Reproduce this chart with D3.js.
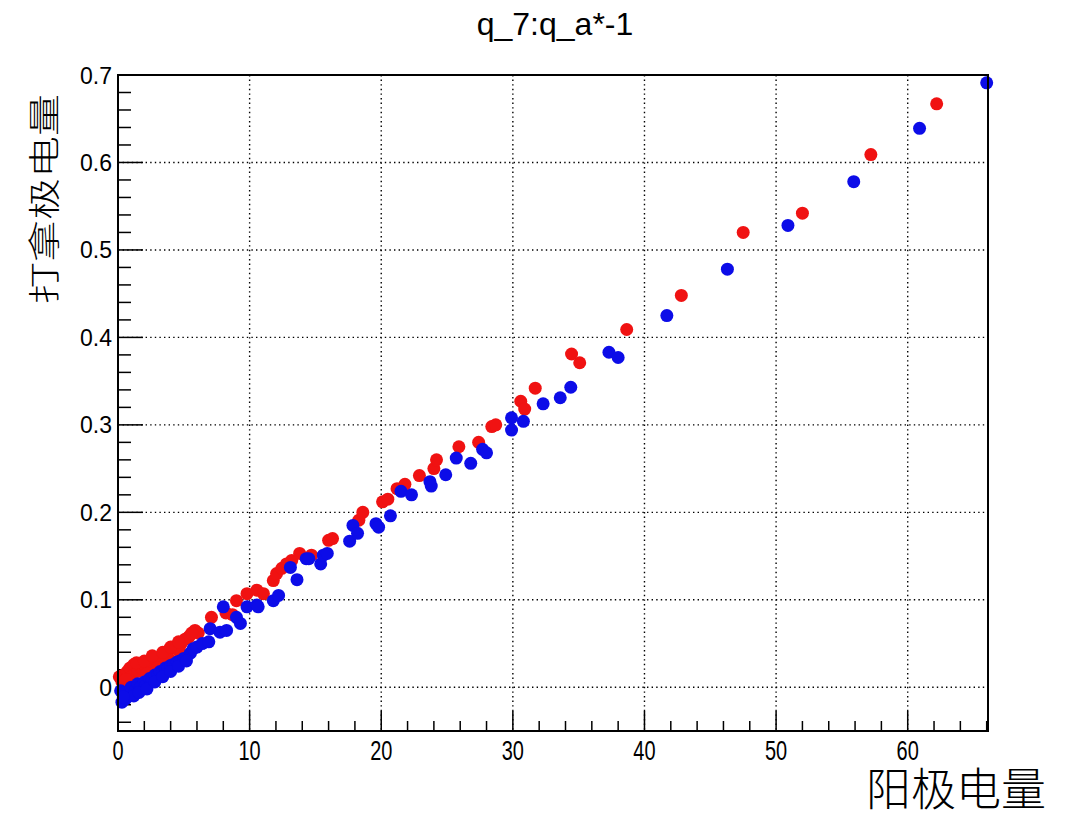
<!DOCTYPE html>
<html><head><meta charset="utf-8">
<script src="https://cdn.jsdelivr.net/npm/d3@7"></script>
<style>html,body{margin:0;padding:0;background:#fff;}</style>
</head><body>
<svg id="c" width="1074" height="817"></svg>
<script>
const title = "q_7:q_a*-1";
const xLabel = "阳极电量";
const yLabel = "打拿极电量";
const xTicks = [0,10,20,30,40,50,60];
const yTicks = [0,0.1,0.2,0.3,0.4,0.5,0.6,0.7];
const yTickLabels = ["0","0.1","0.2","0.3","0.4","0.5","0.6","0.7"];

const redX = [0.1,0.4,0.7,0.9,1.2,1.0,1.5,1.8,2.1,2.4,2.7,2.2,3.0,3.3,3.6,3.0,3.9,4.2,4.5,3.9,4.8,5.1,5.4,4.7,5.35,5.85,6.1,
  1.4,2.0,2.6,3.4,4.0,4.6,5.6,0.3,0.6,
  7.1,8.2,8.7,9.0,9.8,10.55,11.05,11.8,12.05,12.45,12.8,13.2,13.8,14.7,16.0,16.3,18.3,18.6,20.1,20.5,21.2,21.8,22.9,24.0,24.2,
  25.9,27.4,28.4,28.7,30.6,30.9,31.7,34.46,35.08,38.65,42.8,47.5,52.0,57.2,62.2];
const redY = [0.012,0.014,0.018,0.022,0.026,0.012,0.018,0.022,0.024,0.029,0.033,0.016,0.031,0.036,0.040,0.022,0.043,0.046,0.048,0.032,0.050,0.055,0.058,0.040,0.057,0.065,0.062,
  0.028,0.030,0.036,0.040,0.046,0.052,0.062,0.006,0.009,
  0.080,0.085,0.083,0.099,0.107,0.111,0.107,0.122,0.130,0.136,0.141,0.145,0.153,0.151,0.168,0.170,0.191,0.200,0.212,0.215,0.227,0.232,0.242,0.250,0.260,
  0.275,0.280,0.298,0.300,0.327,0.318,0.342,0.381,0.371,0.409,0.448,0.520,0.542,0.609,0.667];

const blueX = [0.3,0.6,0.2,0.5,0.9,1.0,1.3,1.5,1.7,2.0,2.1,2.4,2.6,2.8,3.0,3.2,3.4,3.6,3.8,4.0,4.2,4.5,4.7,5.0,5.5,5.7,6.0,6.4,6.9,
  1.2,1.6,2.2,2.8,3.4,4.0,4.6,5.2,0.4,
  7.0,7.75,8.25,8.0,9.0,9.3,9.8,10.55,10.65,11.8,12.2,13.1,13.6,14.3,14.5,15.4,15.6,15.9,17.6,17.85,18.2,19.6,19.8,20.7,21.5,22.3,23.7,23.8,
  24.9,25.7,26.8,27.7,28.0,29.9,30.8,29.9,32.3,33.6,34.4,37.3,38.0,41.7,46.3,50.9,55.9,60.9,66.0];
const blueY = [-0.017,-0.013,-0.004,-0.006,-0.008,0.000,-0.004,0.004,0.000,0.006,0.002,0.010,0.008,0.014,0.013,0.018,0.018,0.022,0.022,0.025,0.026,0.029,0.030,0.033,0.039,0.044,0.046,0.050,0.052,
  -0.010,-0.006,-0.002,0.006,0.012,0.018,0.024,0.030,-0.011,
  0.067,0.063,0.065,0.092,0.080,0.073,0.092,0.094,0.092,0.099,0.105,0.137,0.123,0.147,0.147,0.141,0.151,0.153,0.167,0.185,0.176,0.187,0.183,0.196,0.224,0.220,0.235,0.230,
  0.243,0.262,0.256,0.272,0.268,0.308,0.304,0.294,0.324,0.331,0.343,0.383,0.377,0.425,0.478,0.528,0.578,0.639,0.691];

const svg = d3.select("#c");
svg.append("rect").attr("width",1074).attr("height",817).attr("fill","#fff");
const L=118,R=988,T=75,B=731;
const x = d3.scaleLinear().domain([0,66.1]).range([L,R]);
const y = d3.scaleLinear().domain([-0.05,0.7]).range([B,T]);

// grid
const g = svg.append("g");
g.selectAll("line.gx").data(xTicks.filter(d=>d>0)).join("line")
  .attr("x1",d=>x(d)).attr("x2",d=>x(d)).attr("y1",T).attr("y2",B)
  .attr("stroke","#000").attr("stroke-width",1.4).attr("stroke-dasharray","1.4 3.2");
g.selectAll("line.gy").data(yTicks.filter(d=>d<0.7)).join("line")
  .attr("y1",d=>y(d)).attr("y2",d=>y(d)).attr("x1",L).attr("x2",R)
  .attr("stroke","#000").attr("stroke-width",1.4).attr("stroke-dasharray","1.4 3.2");

// ticks
const xMinor = d3.range(0,66.1,2);
svg.append("g").selectAll("line").data(xMinor).join("line")
  .attr("x1",d=>x(d)).attr("x2",d=>x(d)).attr("y1",B)
  .attr("y2",d=>B-(d%10===0?20:10)).attr("stroke","#000").attr("stroke-width",1.5);
const yMinor = d3.range(-0.04,0.701,0.02).map(v=>Math.round(v*100)/100);
svg.append("g").selectAll("line").data(yMinor).join("line")
  .attr("y1",d=>y(d)).attr("y2",d=>y(d)).attr("x1",L)
  .attr("x2",d=>L+(Math.abs(Math.round(d*100))%10===0?25:13)).attr("stroke","#000").attr("stroke-width",1.5);

// tick labels
svg.append("g").selectAll("text").data(xTicks).join("text")
  .attr("transform",d=>`translate(${x(d)},760) scale(0.74,1)`)
  .attr("text-anchor","middle").attr("font-family","Liberation Sans, Arial, sans-serif")
  .attr("font-size",27).attr("fill","#000").text(d=>d);
svg.append("g").selectAll("text").data(yTicks).join("text")
  .attr("x",112).attr("y",d=>y(d)+8.5).attr("text-anchor","end")
  .attr("font-family","Liberation Sans, Arial, sans-serif").attr("font-size",23).attr("fill","#000")
  .text((d,i)=>yTickLabels[i]);

// points
const pts = svg.append("g");
pts.selectAll("circle.r").data(redX.map((v,i)=>[v,redY[i]])).join("circle")
  .attr("cx",d=>x(d[0])).attr("cy",d=>y(d[1])).attr("r",6.5).attr("fill","#f01212");
pts.selectAll("circle.b").data(blueX.map((v,i)=>[v,blueY[i]])).join("circle").attr("class","b")
  .attr("cx",d=>x(d[0])).attr("cy",d=>y(d[1])).attr("r",6.5).attr("fill","#0c0ce8");

// frame
svg.append("rect").attr("x",L).attr("y",T).attr("width",R-L).attr("height",B-T)
  .attr("fill","none").attr("stroke","#000").attr("stroke-width",2);

// title
svg.append("text").attr("x",555).attr("y",35).attr("text-anchor","middle")
  .attr("font-family","Liberation Sans, Arial, sans-serif").attr("font-size",32).attr("fill","#000").text(title);

// axis titles
svg.append("text").attr("x",1046).attr("y",806).attr("text-anchor","end")
  .attr("font-family","Noto Sans CJK SC, sans-serif").attr("font-weight",300).attr("font-size",45).attr("fill","#000").text(xLabel);
svg.append("text").attr("transform","translate(56,199) rotate(-90) scale(1,0.75)")
  .attr("text-anchor","middle")
  .attr("font-family","Noto Sans CJK SC, sans-serif").attr("font-weight",300).attr("font-size",42).attr("fill","#000").text(yLabel);
</script>
</body></html>
